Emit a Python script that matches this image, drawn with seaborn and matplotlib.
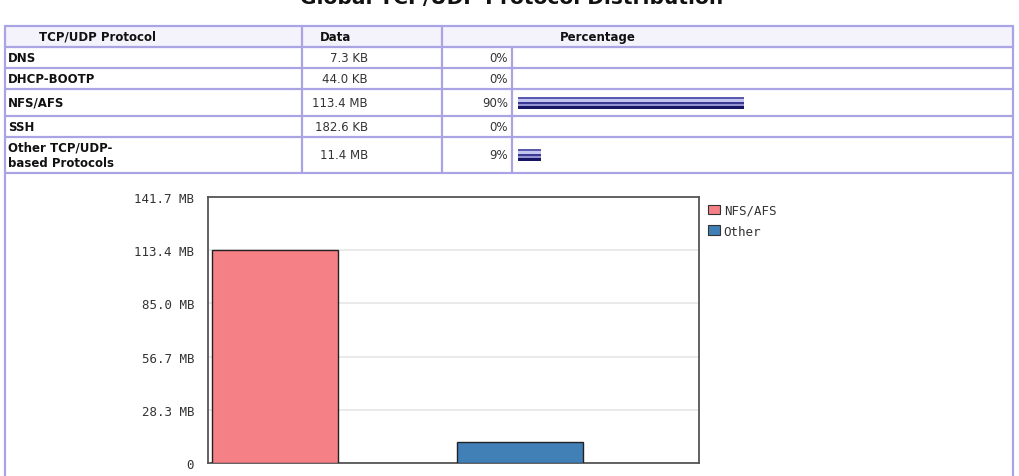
#!/usr/bin/env python3

import numpy as np
import pandas as pd
import matplotlib
matplotlib.use("Agg")
import matplotlib.pyplot as plt
import seaborn as sns

# table data
protocols = ["DNS", "DHCP-BOOTP", "NFS/AFS", "SSH", "Other TCP/UDP-\nbased Protocols"]
data_sizes = ["7.3 KB", "44.0 KB", "113.4 MB", "182.6 KB", "11.4 MB"]
percentages = [0, 0, 90, 0, 9]

# chart data (MB)
chart_labels = ["NFS/AFS", "Other"]
chart_values = [113.4, 11.4]
chart_colors = ["#f58085", "#4180b6"]
y_ticks = [0, 28.34, 56.68, 85.02, 113.36, 141.7]
y_tick_labels = ["0", "28.3 MB", "56.7 MB", "85.0 MB", "113.4 MB", "141.7 MB"]

title = "Global TCP/UDP Protocol Distribution"

# layout of the html-like table, in pixels
W, H = 1020, 477
row_edges = [27, 48, 69, 90, 117, 138, 174]
col_edges = [5, 302, 442, 512, 1013]
border = "#aaa4e4"
text_font = "DejaVu Sans"
mono_font = "DejaVu Sans Mono"

sns.set_style("white")

fig = plt.figure(figsize=(W / 100, H / 100), dpi=100)
bg = fig.add_axes([0, 0, 1, 1])
bg.set_xlim(0, W)
bg.set_ylim(H, 0)
bg.axis("off")

bg.text(512, 4, title, ha="center", va="baseline", fontsize=14.5,
        weight="bold", family=text_font, color="#111")

# header background
bg.fill_between([col_edges[0], col_edges[-1]], row_edges[0], row_edges[1],
                color="#f4f2fa", zorder=0)

# grid lines
for y in row_edges:
    bg.plot([col_edges[0], col_edges[-1]], [y, y], color=border, lw=1.6, zorder=1)
for x in [col_edges[0], col_edges[-1]]:
    bg.plot([x, x], [row_edges[0], H], color=border, lw=1.6, zorder=1)
for x in col_edges[1:3]:
    bg.plot([x, x], [row_edges[0], row_edges[-1]], color=border, lw=1.6, zorder=1)
bg.plot([col_edges[3]] * 2, [row_edges[1], row_edges[-1]], color=border, lw=1.6, zorder=1)

# header text
hy = (row_edges[0] + row_edges[1]) / 2
for x, label in [(39, "TCP/UDP Protocol"), (320, "Data"), (560, "Percentage")]:
    bg.text(x, hy, label, va="center", fontsize=8.5, weight="bold",
            family=text_font, color="#111")

row_centers = [(a + b) / 2 for a, b in zip(row_edges[1:-1], row_edges[2:])]
for yc, name, size, pct in zip(row_centers, protocols, data_sizes, percentages):
    bg.text(8, yc, name, va="center", ha="left", fontsize=8.5, weight="bold",
            family=text_font, linespacing=1.3, color="#111")
    bg.text(368, yc, size, va="center", ha="right", fontsize=8.5,
            family=text_font, color="#333")
    bg.text(508, yc, f"{pct}%", va="center", ha="right", fontsize=8.5,
            family=text_font, color="#333")

# percentage bars, x axis in percent
px_per_pct = 2.51
pct_ax = fig.add_axes([col_edges[3] / W, 1 - row_edges[-1] / H,
                       (col_edges[4] - col_edges[3]) / W, (row_edges[-1] - row_edges[1]) / H])
pct_ax.set_xlim(-6 / px_per_pct, (col_edges[4] - col_edges[3] - 6) / px_per_pct)
pct_ax.set_ylim(row_edges[-1], row_edges[1])
pct_ax.axis("off")
pct_ax.patch.set_alpha(0)
stripes = [(2, "#5a5aae"), (3, "#c4c4f0"), (2, "#3a3a92"), (2, "#9494d4"), (3, "#161664")]
for yc, pct in zip(row_centers, percentages):
    if pct == 0:
        continue
    top = yc - 6
    for h, c in stripes:
        pct_ax.barh(top + h / 2, pct, height=h, left=0, color=c, linewidth=0)
        top += h

# bar chart
chart = pd.DataFrame({"protocol": chart_labels, "mb": chart_values})
ax = fig.add_axes([208 / W, 1 - 464 / H, 491 / W, 266 / H])
sns.barplot(data=chart, x="protocol", y="mb", hue="protocol",
            palette=chart_colors, saturation=1, width=0.515, edgecolor="#222",
            linewidth=1.0, ax=ax, legend=False, zorder=3)
ax.set_xlim(-0.273, 1.73)
ax.set_ylim(0, 141.7)
ax.set_yticks(y_ticks)
ax.set_yticklabels(y_tick_labels, family=mono_font, fontsize=9, color="#333")
ax.set_xticks([])
ax.set_xlabel("")
ax.set_ylabel("")
ax.tick_params(axis="y", length=0, pad=10)
ax.yaxis.grid(True, color="#e6e6e6", lw=1.2, zorder=0)
for s in ax.spines.values():
    s.set_color("#555")
    s.set_linewidth(1.3)

handles = [plt.Rectangle((0, 0), 1, 1, facecolor=c, edgecolor="#333", lw=0.8)
           for c in chart_colors]
leg = ax.legend(handles, chart_labels, loc="upper left",
                bbox_to_anchor=(708 / W, 1 - 205 / H), bbox_transform=fig.transFigure,
                frameon=False, borderpad=0, borderaxespad=0,
                handlelength=0.96, handleheight=0.8, handletextpad=0.3,
                labelspacing=0.6, prop={"family": mono_font, "size": 9})
for t in leg.get_texts():
    t.set_color("#333")

fig.savefig("out.png", dpi=100)
plt.close(fig)
